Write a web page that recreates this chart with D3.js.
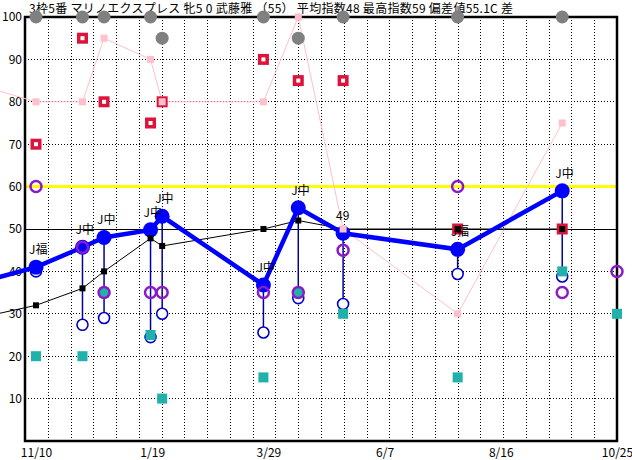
<!DOCTYPE html>
<html><head><meta charset="utf-8">
<script src="https://d3js.org/d3.v7.min.js"></script>
<style>
html,body{margin:0;padding:0;background:#fff;}
svg{display:block;font-family:"Noto Sans CJK JP","Noto Sans",sans-serif;}
</style></head>
<body>
<script>
// ---- data (index 0 = previous race, off the left edge) ----
const raceDates = ["2019-10-06","2019-11-10","2019-12-08","2019-12-21","2020-01-18","2020-01-25","2020-03-26","2020-04-16","2020-05-13","2020-07-21","2020-09-22","2020-10-25"];
const indexVals  = [37.3, 41, 45.7, 48, 49.8, 53, 36.8, 55, 49, 45.2, 59, null];
const indexLabels = [null, "J福", "J中", "J中", "J中", "J中", "J中", "J中", "49", "J福", "J中", null];
const lowVals    = [null, 40, 27.4, 29, 24.5, 30, 25.6, 33.7, 32.3, 39.4, 38.8, null];
const avgVals    = [29, 32, 36, 40, 47.8, 46, 50, 52, 50, 50, 50, null];
const pinkVals   = [84, 80, 80, 95, 90, 80, 80, 100, 50, 30, 75, null];
const redVals    = [null, 70, 95, 80, 75, 80, 90, 85, 85, 50, 50, null];
const grayVals   = [null, 100, 100, 100, 100, 95, 100, 95, 100, 100, 100, null];
const purpleVals = [null, 60, 45.7, 35, 35, 35, 35, 35, 45, 60, 35, 40];
const tealVals   = [null, 20, 20, 35, 25, 10, 15, 35, 30, 15, 40, 30];
const yTicks = [10, 20, 30, 40, 50, 60, 70, 80, 90, 100];
const xTickDates = ["2019-11-10","2020-01-19","2020-03-29","2020-06-07","2020-08-16","2020-10-25"];
const title = "3枠5番 マリノエクスプレス 牝5 0 武藤雅 （55） 平均指数48 最高指数59 偏差値55.1C 差";
const refLine = 50, goodLine = 60;

const W = 632, H = 460;
const L = 25, R = 617, T = 17, B = 441;
const parse = d3.timeParse("%Y-%m-%d");
const dates = raceDates.map(parse);

const x = d3.scaleTime().domain([parse("2019-11-10"), parse("2020-10-25")]).range([36, 617]);
const y = d3.scaleLinear().domain([0, 100]).range([B, T]);
const gridX = d3.scaleLinear().domain([0, 26]).range([L, R]);

const svg = d3.select("body").append("svg").attr("width", W).attr("height", H);
svg.append("rect").attr("width", W).attr("height", H).attr("fill", "#fff");

// title
svg.append("text").attr("x", 29).attr("y", 13).attr("font-size", 12).attr("fill", "#000")
  .attr("textLength", 484).attr("lengthAdjust", "spacing").text(title);

// grid
const g = svg.append("g");
g.selectAll(".hg").data(yTicks.filter(v => v < 100 && v !== refLine)).join("line")
  .attr("x1", L).attr("x2", R).attr("y1", d => y(d)).attr("y2", d => y(d))
  .attr("stroke", "#000").attr("stroke-width", 1).attr("stroke-dasharray", "1,2").attr("shape-rendering", "crispEdges");
g.selectAll(".vg").data(d3.range(1, 26)).join("line")
  .attr("x1", d => Math.round(gridX(d)) + 0.5).attr("x2", d => Math.round(gridX(d)) + 0.5).attr("y1", T).attr("y2", B)
  .attr("stroke", "#000").attr("stroke-width", 1).attr("stroke-dasharray", "1,2").attr("shape-rendering", "crispEdges");

// reference lines
svg.append("line").attr("x1", L).attr("x2", R).attr("y1", y(refLine)).attr("y2", y(refLine))
  .attr("stroke", "#000").attr("stroke-width", 1).attr("shape-rendering", "crispEdges");
svg.append("line").attr("x1", L).attr("x2", R).attr("y1", y(goodLine)).attr("y2", y(goodLine))
  .attr("stroke", "#ffff00").attr("stroke-width", 3);

// frame
svg.append("rect").attr("x", L).attr("y", T).attr("width", R - L).attr("height", B - T)
  .attr("fill", "none").attr("stroke", "#000").attr("stroke-width", 2.5);

// axes
const yAxis = svg.append("g").attr("transform", `translate(${L - 1},0)`)
  .call(d3.axisLeft(y).tickValues(yTicks).tickSize(0).tickPadding(2));
yAxis.select(".domain").remove();
yAxis.selectAll("text").attr("font-size", 12).attr("font-family", "Noto Sans CJK JP, sans-serif").attr("fill", "#000");

const xAxis = svg.append("g").attr("transform", `translate(0,${B})`)
  .call(d3.axisBottom(x).tickValues(xTickDates.map(parse)).tickFormat(d3.timeFormat("%-m/%-d")).tickSize(0).tickPadding(7));
xAxis.select(".domain").remove();
xAxis.selectAll("text").attr("font-size", 12).attr("font-family", "Noto Sans CJK JP, sans-serif").attr("fill", "#000");

const pts = (vals) => vals.map((v, i) => ({v, d: dates[i], i})).filter(p => p.v !== null);
const lineGen = d3.line().x(p => x(p.d)).y(p => y(p.v));

// pink line
svg.append("path").datum(pts(pinkVals)).attr("d", lineGen).attr("fill", "none").attr("stroke", "#ffc0cb").attr("stroke-width", 1);
// average (black) line
svg.append("path").datum(pts(avgVals)).attr("d", lineGen).attr("fill", "none").attr("stroke", "#000").attr("stroke-width", 1);
// index (blue) line
svg.append("path").datum(pts(indexVals)).attr("d", lineGen).attr("fill", "none").attr("stroke", "#0000ff").attr("stroke-width", 4.5);

// vertical drop lines from index to low
const drops = pts(indexVals).filter(p => lowVals[p.i] !== null);
svg.selectAll(".drop").data(drops).join("line")
  .attr("x1", p => x(p.d)).attr("x2", p => x(p.d)).attr("y1", p => y(p.v)).attr("y2", p => y(lowVals[p.i]))
  .attr("stroke", "#0000a0").attr("stroke-width", 1.5);

// hollow low circles
svg.selectAll(".low").data(pts(lowVals)).join("circle")
  .attr("cx", p => x(p.d)).attr("cy", p => y(p.v)).attr("r", 5.5)
  .attr("fill", "#fff").attr("stroke", "#0000c8").attr("stroke-width", 1.6);

// big index dots
svg.selectAll(".idx").data(pts(indexVals).filter(p => p.i > 0)).join("circle")
  .attr("cx", p => x(p.d)).attr("cy", p => y(p.v)).attr("r", 7.5).attr("fill", "#0000ff");

// red squares
const red = svg.selectAll(".red").data(pts(redVals)).join("g").attr("transform", p => `translate(${x(p.d)},${y(p.v)})`);
red.append("rect").attr("x", -5.5).attr("y", -5.5).attr("width", 11).attr("height", 11).attr("fill", "#dc143c");
red.append("rect").attr("x", -2).attr("y", -2).attr("width", 4).attr("height", 4).attr("fill", "#fff");

// black markers
svg.selectAll(".bk").data(pts(avgVals)).join("rect")
  .attr("x", p => x(p.d) - 3).attr("y", p => y(p.v) - 3).attr("width", 6).attr("height", 6).attr("fill", "#000");

// pink markers
svg.selectAll(".pk").data(pts(pinkVals)).join("rect")
  .attr("x", p => x(p.d) - 3.5).attr("y", p => y(p.v) - 3.5).attr("width", 7).attr("height", 7).attr("fill", "#ffc0cb");

// teal squares
svg.selectAll(".tl").data(pts(tealVals)).join("rect")
  .attr("x", p => x(p.d) - 5).attr("y", p => y(p.v) - 5).attr("width", 10).attr("height", 10).attr("fill", "#20b2aa");

// purple rings
svg.selectAll(".pp").data(pts(purpleVals)).join("circle")
  .attr("cx", p => x(p.d)).attr("cy", p => y(p.v)).attr("r", 5.5)
  .attr("fill", "none").attr("stroke", "#8b1ac8").attr("stroke-width", 2.5);

// gray circles
svg.selectAll(".gy").data(pts(grayVals)).join("circle")
  .attr("cx", p => x(p.d)).attr("cy", p => y(p.v)).attr("r", 6.5).attr("fill", "#808080");

// labels
svg.selectAll(".lb").data(pts(indexVals).filter(p => indexLabels[p.i])).join("text")
  .attr("x", p => x(p.d) - 7).attr("y", p => y(p.v) - 13)
  .attr("font-size", 12).attr("fill", "#000").text(p => indexLabels[p.i]);
</script>
</body></html>
